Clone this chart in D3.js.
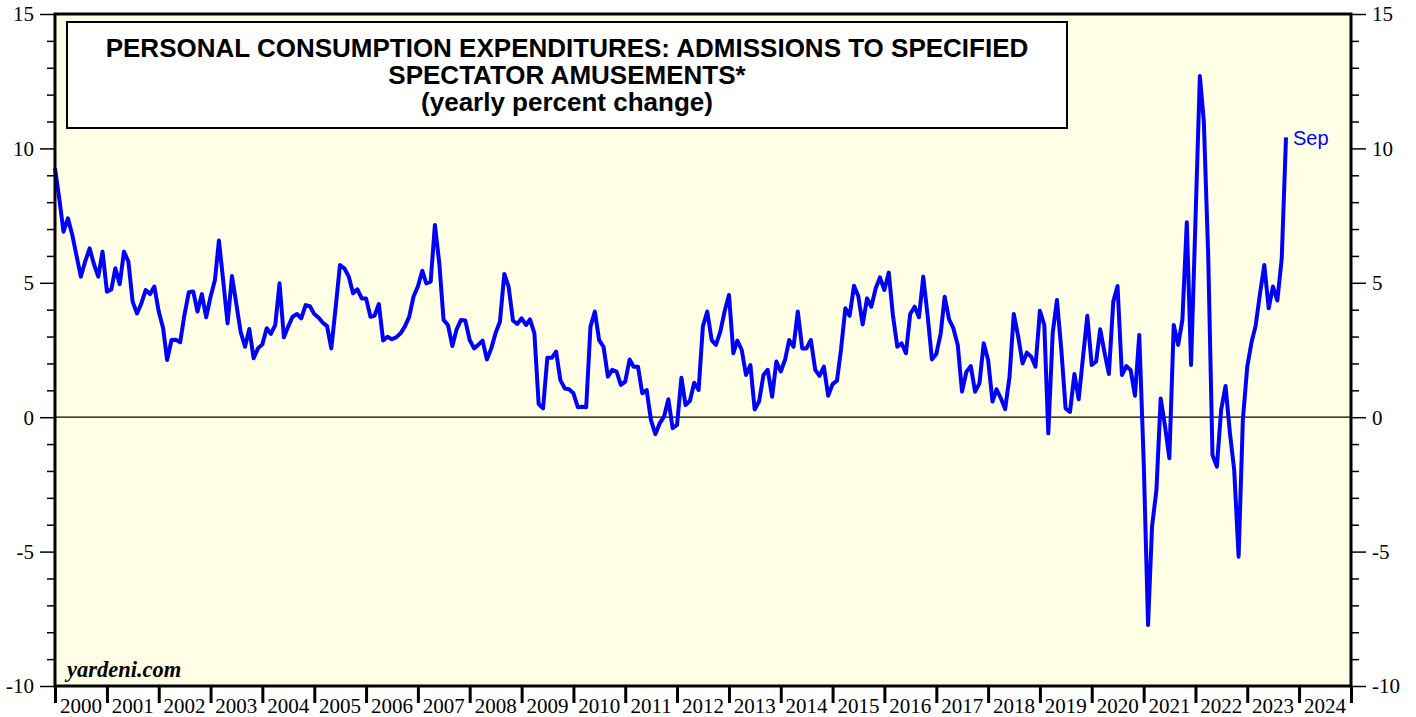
<html>
<head>
<style>
  body { margin: 0; background: #fff; }
  svg { display: block; }
</style>
</head>
<body>
<svg id="chart"></svg>
<script src="https://d3js.org/d3.v7.min.js"></script>
<script>
// monthly values, Dec 1999 .. Sep 2023 (yearly percent change)
const startYear = 1999, startMonth = 11;
const values = [
  9.26, 8.1, 6.9, 7.4, 6.8, 6.0, 5.23, 5.8, 6.28, 5.7, 5.23, 6.16,
  4.67, 4.75, 5.54, 4.95, 6.16, 5.79, 4.3, 3.86, 4.24, 4.73, 4.58, 4.86,
  3.93, 3.31, 2.13, 2.87, 2.88, 2.79, 3.8, 4.65, 4.68, 3.93, 4.58, 3.72,
  4.48, 5.1, 6.57, 5.04, 3.49, 5.25, 4.24, 3.18, 2.62, 3.28, 2.19, 2.56,
  2.71, 3.31, 3.1, 3.43, 4.98, 2.97, 3.37, 3.74, 3.84, 3.68, 4.17, 4.13,
  3.84, 3.7, 3.52, 3.39, 2.56, 4.1, 5.66, 5.54, 5.23, 4.61, 4.76, 4.42,
  4.42, 3.74, 3.77, 4.21, 2.85, 2.99, 2.9, 2.97, 3.12, 3.37, 3.74, 4.48,
  4.86, 5.45, 4.98, 5.04, 7.15, 5.72, 3.62, 3.43, 2.65, 3.27, 3.62, 3.6,
  2.87, 2.56, 2.69, 2.85, 2.15, 2.56, 3.12, 3.55, 5.33, 4.86, 3.6, 3.47,
  3.68, 3.43, 3.64, 3.12, 0.49, 0.33, 2.21, 2.21, 2.44, 1.38, 1.07, 1.04,
  0.89, 0.37, 0.39, 0.37, 3.37, 3.93, 2.87, 2.62, 1.51, 1.76, 1.7, 1.2,
  1.32, 2.15, 1.88, 1.88, 0.89, 1.01, -0.1, -0.63, -0.23, 0.02, 0.67, -0.41,
  -0.29, 1.47, 0.45, 0.61, 1.28, 1.01, 3.37, 3.93, 2.87, 2.69, 3.18, 3.93,
  4.55, 2.38, 2.85, 2.5, 1.57, 1.94, 0.29, 0.58, 1.57, 1.76, 0.76, 2.07,
  1.7, 2.15, 2.87, 2.62, 3.93, 2.56, 2.56, 2.87, 1.76, 1.54, 1.88, 0.8,
  1.23, 1.36, 2.5, 4.05, 3.77, 4.89, 4.51, 3.45, 4.42, 4.11, 4.8, 5.2,
  4.73, 5.38, 3.8, 2.62, 2.75, 2.38, 3.84, 4.11, 3.72, 5.23, 3.77, 2.15,
  2.35, 3.12, 4.48, 3.64, 3.31, 2.69, 0.95, 1.69, 1.9, 0.95, 1.26, 2.75,
  2.13, 0.58, 1.04, 0.7, 0.3, 1.51, 3.84, 3.0, 2.0, 2.4, 2.25, 1.88,
  3.96, 3.43, -0.6, 3.12, 4.36, 2.5, 0.33, 0.2, 1.61, 0.67, 2.25, 3.77,
  1.94, 2.07, 3.27, 2.38, 1.61, 4.3, 4.88, 1.57, 1.9, 1.76, 0.8, 3.06,
  -1.6, -7.73, -4.07, -2.71, 0.7, -0.35, -1.53, 3.43, 2.69, 3.62, 7.25, 1.94,
  7.3, 12.69, 11.0, 5.97, -1.41, -1.84, 0.27, 1.16, -0.6, -1.96, -5.19, -0.1,
  1.88, 2.81, 3.4, 4.6, 5.66, 4.05, 4.86, 4.34, 5.91, 10.41
];
const years = d3.range(2000, 2025);
const yTicks = d3.range(-10, 16);
const titleLines = [
  "PERSONAL CONSUMPTION EXPENDITURES: ADMISSIONS TO SPECIFIED",
  "SPECTATOR AMUSEMENTS*",
  "(yearly percent change)"
];
const lastLabel = "Sep";

const width = 1416, height = 717;
const margin = {top: 14, right: 65, bottom: 31, left: 55};
const serif = "'Liberation Serif', 'Times New Roman', serif";
const sans = "'Liberation Sans', Arial, sans-serif";

const svg = d3.select("#chart")
  .attr("width", width)
  .attr("height", height);

// points sit at the end of each month
const data = values.map((v, i) => ({
  date: new Date(startYear, startMonth + i + 1, 1),
  value: v
}));

const x = d3.scaleTime()
  .domain([new Date(2000, 0, 1), new Date(2025, 0, 1)])
  .range([margin.left, width - margin.right]);

const y = d3.scaleLinear()
  .domain([-10, 15])
  .range([height - margin.bottom, margin.top]);

// plot background
svg.append("rect")
  .attr("x", margin.left)
  .attr("y", margin.top)
  .attr("width", width - margin.left - margin.right)
  .attr("height", height - margin.top - margin.bottom)
  .attr("fill", "#ffffe6");

// zero line
svg.append("line")
  .attr("x1", margin.left).attr("x2", width - margin.right)
  .attr("y1", y(0)).attr("y2", y(0))
  .attr("stroke", "#000").attr("stroke-width", 1.3);

// title box
svg.append("rect")
  .attr("x", 67).attr("y", 22)
  .attr("width", 1000).attr("height", 106)
  .attr("fill", "#fff")
  .attr("stroke", "#000").attr("stroke-width", 2);

svg.append("g")
  .selectAll("text")
  .data(titleLines)
  .join("text")
  .attr("x", 567)
  .attr("y", (d, i) => 57 + i * 27)
  .attr("text-anchor", "middle")
  .style("font-family", sans)
  .style("font-weight", "bold")
  .style("font-size", "26px")
  .text(d => d);

// line
const line = d3.line()
  .x(d => x(d.date))
  .y(d => y(d.value));

svg.append("path")
  .datum(data)
  .attr("fill", "none")
  .attr("stroke", "#0000ff")
  .attr("stroke-width", 4)
  .attr("stroke-linejoin", "round")
  .attr("d", line);

const last = data[data.length - 1];
svg.append("text")
  .attr("x", x(last.date) + 7)
  .attr("y", y(last.value) + 8)
  .attr("fill", "#0000ff")
  .style("font-family", sans)
  .style("font-size", "20px")
  .text(lastLabel);

svg.append("text")
  .attr("x", 67)
  .attr("y", 677)
  .style("font-family", serif)
  .style("font-weight", "bold")
  .style("font-style", "italic")
  .style("font-size", "22.5px")
  .text("yardeni.com");

// y axes, left and right
function styleYAxis(g, dir) {
  g.select(".domain").remove();
  g.selectAll(".tick line")
    .attr("stroke", "#000")
    .attr("stroke-width", 1.5)
    .attr("x2", d => dir * (d % 5 === 0 ? 15 : 8));
  g.selectAll(".tick text")
    .attr("x", dir * 21)
    .attr("dy", "0.33em")
    .style("font-family", serif)
    .style("font-size", "21px")
    .attr("fill", "#000");
}

svg.append("g")
  .attr("transform", `translate(${margin.left},0)`)
  .call(d3.axisLeft(y).tickValues(yTicks).tickFormat(d => d % 5 === 0 ? d : ""))
  .call(g => styleYAxis(g, -1));

svg.append("g")
  .attr("transform", `translate(${width - margin.right},0)`)
  .call(d3.axisRight(y).tickValues(yTicks).tickFormat(d => d % 5 === 0 ? d : ""))
  .call(g => styleYAxis(g, 1));

// x axis: year ticks with labels centred in each year
const xAxis = svg.append("g")
  .attr("transform", `translate(0,${height - margin.bottom})`)
  .call(d3.axisBottom(x)
    .tickValues(years.concat([2025]).map(yr => new Date(yr, 0, 1)))
    .tickSize(17)
    .tickFormat(""));
xAxis.select(".domain").remove();
xAxis.selectAll(".tick line").attr("stroke", "#000").attr("stroke-width", 3);

svg.append("g")
  .selectAll("text")
  .data(years)
  .join("text")
  .attr("x", yr => x(new Date(yr, 6, 2)))
  .attr("y", 713)
  .attr("text-anchor", "middle")
  .style("font-family", serif)
  .style("font-size", "21px")
  .text(yr => yr);

// frame
svg.append("rect")
  .attr("x", margin.left)
  .attr("y", margin.top)
  .attr("width", width - margin.left - margin.right)
  .attr("height", height - margin.top - margin.bottom)
  .attr("fill", "none")
  .attr("stroke", "#000")
  .attr("stroke-width", 3);
</script>
</body>
</html>
